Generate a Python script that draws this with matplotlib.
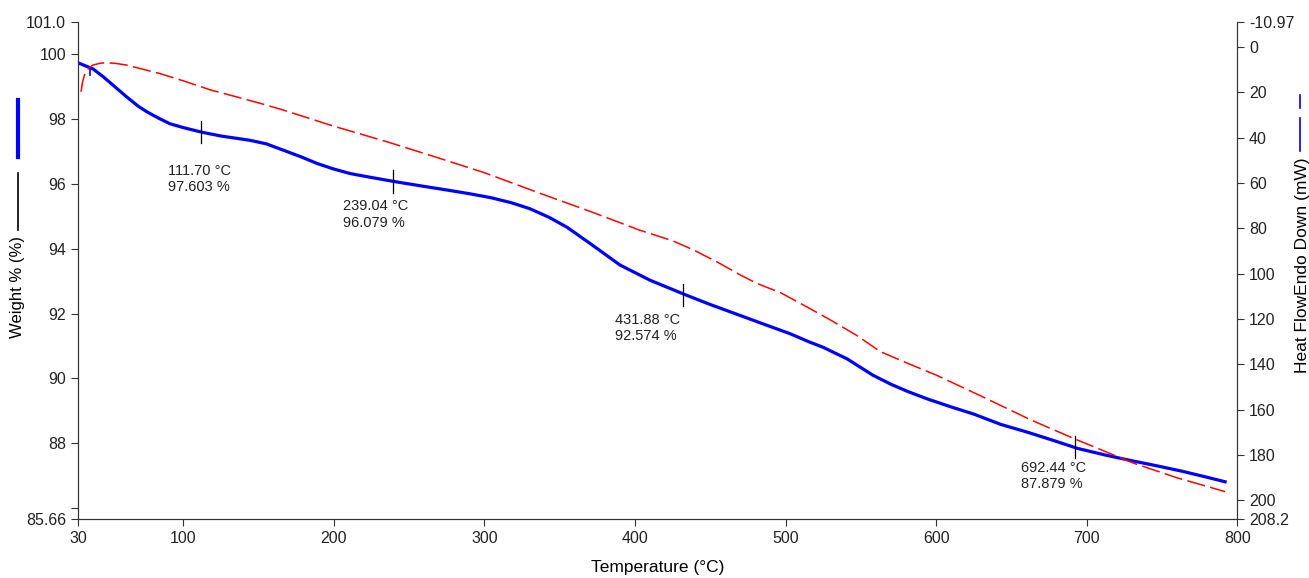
import matplotlib.pyplot as plt
from matplotlib.lines import Line2D

plt.rcParams['font.family'] = ['Liberation Sans', 'DejaVu Sans']

# TGA weight curve (left axis)
temp_w = [31, 40, 47, 55, 62, 70, 76, 84, 91, 100, 112, 125, 144, 155, 166, 178, 189,
          200, 211, 225, 239.5, 258, 277, 290, 304, 318, 330, 343, 355, 370, 390, 410,
          433, 450, 470, 487, 503, 515, 525, 541, 558, 570, 581, 594, 610, 625, 643,
          660, 677, 694, 712, 731, 748, 764, 780, 792]
weight = [99.72, 99.55, 99.30, 98.98, 98.70, 98.40, 98.22, 98.02, 97.86, 97.74, 97.60,
          97.48, 97.35, 97.24, 97.05, 96.84, 96.63, 96.46, 96.32, 96.20, 96.08, 95.94,
          95.80, 95.70, 95.58, 95.42, 95.24, 94.97, 94.66, 94.17, 93.50, 93.03, 92.59,
          92.28, 91.94, 91.65, 91.38, 91.14, 90.96, 90.60, 90.10, 89.82, 89.60, 89.37,
          89.12, 88.90, 88.58, 88.35, 88.10, 87.84, 87.64, 87.45, 87.29, 87.13, 86.95,
          86.81]

# DSC heat flow curve (right axis)
temp_h = [32, 33, 34.6, 37, 40, 45, 49, 55, 62, 72, 84, 100, 118, 135, 151, 166, 200,
          235, 270, 300, 337, 370, 403, 425, 439, 455, 470, 481, 497, 514, 530, 547,
          563, 581, 600, 630, 663, 694, 731, 760, 792]
heat = [19.8, 15.5, 11.7, 9.5, 8.0, 7.2, 7.0, 7.3, 8.0, 9.7, 11.7, 15.0, 19.0, 22.0,
        24.9, 27.8, 35.0, 41.8, 49.1, 55.5, 64.6, 72.5, 80.8, 85.5, 89.6, 95.0, 100.6,
        104.3, 108.5, 114.6, 120.5, 127.1, 134.4, 139.5, 144.7, 154.0, 164.5, 173.4,
        183.5, 190.0, 196.1]

# annotated points
ann_t = [111.70, 239.04, 431.88, 692.44]
ann_w = [97.603, 96.079, 92.574, 87.879]
ann_off = [(-24, -23), (-36, -13), (-49, -13), (-39, -10)]  # text offsets, points

fig = plt.figure(figsize=(13.09, 5.78), dpi=100)
ax = fig.add_axes([0.0596, 0.102, 0.8855, 0.860])
ax2 = ax.twinx()

ax.plot(temp_w, weight, color='#0000ff', lw=2.3, zorder=3)
ax2.plot(temp_h, heat, color='#ff0000', lw=1.1, dashes=(12, 3.5))

# small marker near the start
ax.plot([38, 38], [99.35, 99.62], color='#0000ff', lw=1.2)

for t, w, off in zip(ann_t, ann_w, ann_off):
    ax.plot([t, t], [w - 0.35, w + 0.35], color='black', lw=0.9, zorder=4)
    ax.annotate(f"{t:.2f} °C\n{w:.3f} %", xy=(t, w), xytext=off,
                textcoords='offset points', fontsize=10.5, va='top', ha='left',
                linespacing=1.2, color='#222222')

ax.set_xlim(30, 800)
ax.set_ylim(85.66, 101.0)
ax2.set_ylim(208.2, -10.97)

ax.set_xticks([30, 100, 200, 300, 400, 500, 600, 700, 800])
ax.set_yticks([85.66, 86, 88, 90, 92, 94, 96, 98, 100, 101.0])
ax.set_yticklabels(['85.66', '', '88', '90', '92', '94', '96', '98', '100', '101.0'])
ax2.set_yticks([-10.97, 0, 20, 40, 60, 80, 100, 120, 140, 160, 180, 200, 208.2])
ax2.set_yticklabels(['-10.97', '0', '20', '40', '60', '80', '100', '120', '140',
                     '160', '180', '200', '208.2'])

for a in (ax, ax2):
    a.spines['top'].set_visible(False)
    for s in a.spines.values():
        s.set_color('#333333')
    a.tick_params(labelsize=11.5, direction='out', length=5, color='#333333',
                  labelcolor='#222222')

ax.set_xlabel('Temperature (°C)', fontsize=12.5, labelpad=10)
ax.set_ylabel('Weight % (%)', fontsize=12)
ax.yaxis.set_label_coords(-0.046, 0.467)
ax2.set_ylabel('Heat FlowEndo Down (mW)', fontsize=12.5)
ax2.yaxis.set_label_coords(1.05, 0.511)

# legend glyphs next to the axis labels
fig.add_artist(Line2D([18 / 1309] * 2, [1 - 100 / 578, 1 - 157 / 578],
                      color='#0000ff', lw=3))
fig.add_artist(Line2D([18 / 1309] * 2, [1 - 173 / 578, 1 - 230 / 578],
                      color='black', lw=1.2))
fig.add_artist(Line2D([1300 / 1309] * 2, [1 - 95 / 578, 1 - 108 / 578],
                      color='#0000ff', lw=1.2))
fig.add_artist(Line2D([1300 / 1309] * 2, [1 - 118 / 578, 1 - 151 / 578],
                      color='#0000ff', lw=1.2))

fig.savefig('out.png', dpi=100)
